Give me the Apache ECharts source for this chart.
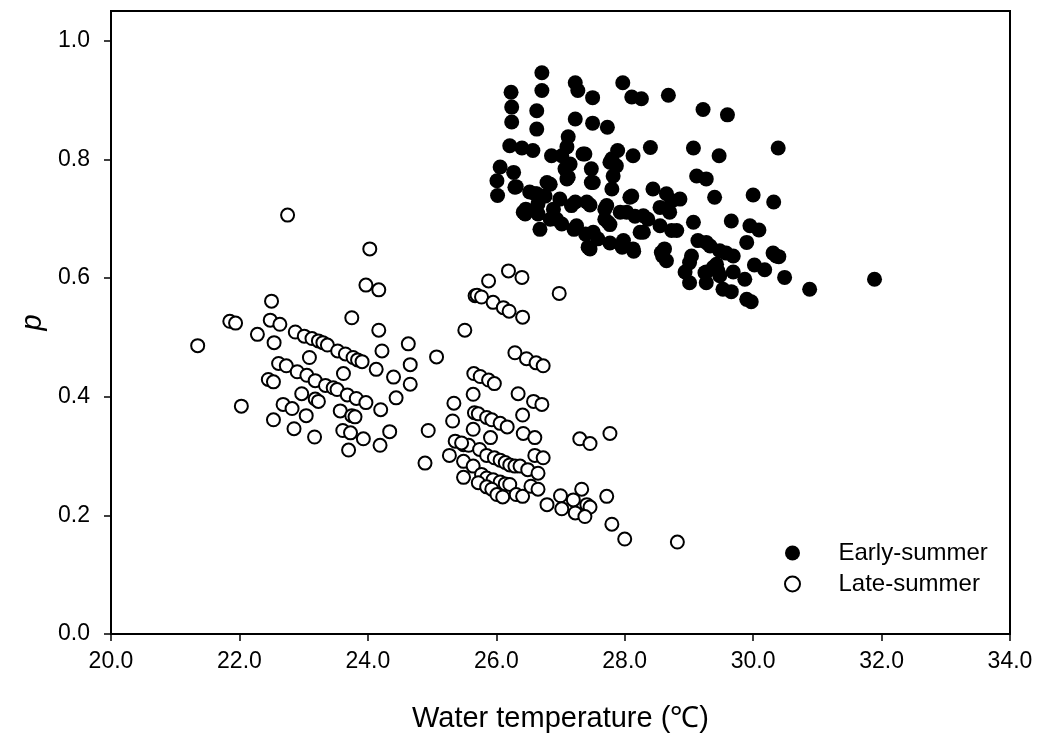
<!DOCTYPE html>
<html>
<head>
<meta charset="utf-8">
<script src="https://cdn.jsdelivr.net/npm/echarts@6/dist/echarts.min.js"></script>
<style>
html,body{margin:0;padding:0;background:#fff;}
#chart{width:1040px;height:738px;}
</style>
</head>
<body>
<div id="chart"></div>
<script>
const seriesNames = ['Early-summer', 'Late-summer'];
const xTicks = [20, 22, 24, 26, 28, 30, 32, 34];
const yTicks = [0, 0.2, 0.4, 0.6, 0.8, 1.0];

// [water temperature (°C), p]
const earlySummer = [
[26.71,0.946],[26.23,0.913],[26.71,0.916],[27.23,0.929],[27.27,0.916],[27.50,0.904],[27.97,0.929],[28.11,0.905],[28.26,0.902],[28.68,0.908],[29.22,0.884],[29.60,0.875],
[26.24,0.888],[26.63,0.882],[26.24,0.863],[27.23,0.868],[27.50,0.861],[27.73,0.854],[26.63,0.851],[27.12,0.838],
[26.21,0.823],[26.40,0.819],[26.57,0.815],[26.86,0.806],[27.10,0.821],[27.38,0.809],[27.89,0.815],[28.13,0.806],[28.40,0.820],[29.07,0.819],[29.47,0.806],[30.39,0.819],
[26.06,0.787],[26.01,0.764],[26.02,0.739],[26.27,0.778],[26.31,0.754],[27.07,0.784],[27.48,0.784],[27.77,0.795],[27.82,0.772],[29.12,0.772],[29.27,0.767],[29.40,0.736],
[26.63,0.742],[26.84,0.758],[27.10,0.767],[27.51,0.761],[27.80,0.750],[28.11,0.738],[28.44,0.750],[28.65,0.742],[28.86,0.733],
[26.45,0.708],[26.65,0.725],[26.89,0.716],[27.17,0.722],[27.41,0.728],[27.72,0.722],[28.03,0.711],[28.29,0.705],[28.55,0.719],[28.70,0.711],
[26.68,0.682],[26.94,0.699],[27.25,0.688],[27.51,0.677],[27.74,0.694],[27.98,0.663],[28.13,0.649],[28.29,0.677],[28.55,0.688],[28.81,0.680],[29.07,0.694],[29.66,0.696],
[27.46,0.649],[28.62,0.649],[28.65,0.629],[28.94,0.610],[29.14,0.663],[29.33,0.654],[29.01,0.626],[29.58,0.642],[29.38,0.618],[29.69,0.610],
[30.00,0.740],[30.32,0.728],[29.95,0.688],[30.09,0.681],[29.90,0.660],[29.27,0.660],[29.48,0.646],[29.69,0.637],[30.31,0.642],[30.40,0.636],[30.02,0.622],[30.18,0.614],[30.49,0.601],[29.27,0.610],[29.45,0.612],[29.87,0.598],[29.53,0.581],[29.66,0.577],[29.90,0.564],[29.97,0.560],[30.88,0.581],[31.89,0.598],
[28.59,0.637],[29.04,0.637],[29.01,0.592],[29.25,0.609],[29.27,0.592],[29.43,0.623],[29.48,0.604],[30.36,0.637],
[26.42,0.711],[26.79,0.761],[27.02,0.806],[27.15,0.792],[27.12,0.770],[27.35,0.809],[27.48,0.761],[27.80,0.801],[27.87,0.789],[28.08,0.736],[28.73,0.730],[27.43,0.652],[27.69,0.699],[27.77,0.690],[28.24,0.677],[28.73,0.680],[28.57,0.643],[26.29,0.753],[26.60,0.742],
[26.46,0.716],[26.65,0.708],[26.84,0.699],[27.02,0.691],[27.21,0.682],[27.39,0.674],[27.58,0.666],[27.77,0.659],[27.96,0.652],[28.14,0.645],
[26.52,0.745],[26.76,0.738],[26.99,0.733],[27.23,0.728],[27.46,0.723],[27.69,0.716],[27.93,0.711],[28.16,0.704],[28.36,0.699]
];

const lateSummer = [
[22.75,0.706],[24.03,0.649],[23.97,0.588],[24.17,0.580],[22.50,0.561],[21.85,0.527],[21.94,0.524],[22.48,0.529],[22.63,0.522],[22.28,0.505],[22.54,0.491],[22.87,0.509],
[23.01,0.502],[23.13,0.498],[23.23,0.494],[23.30,0.491],[23.37,0.487],[23.75,0.533],[24.17,0.512],[25.51,0.512],[25.67,0.570],
[23.53,0.477],[23.65,0.472],[23.77,0.466],[23.84,0.462],[23.91,0.459],[24.22,0.477],[24.63,0.489],[25.07,0.467],[24.66,0.454],[23.09,0.466],
[22.61,0.456],[22.73,0.452],[22.45,0.429],[22.53,0.425],[22.90,0.442],[23.05,0.436],[23.18,0.427],[23.34,0.419],[23.46,0.415],[23.52,0.412],[23.62,0.439],[24.13,0.446],[24.40,0.433],[24.66,0.421],
[23.68,0.403],[23.82,0.397],[23.97,0.390],[22.97,0.405],[23.18,0.396],[23.23,0.392],[24.44,0.398],[24.20,0.378],[22.68,0.387],[22.82,0.380],[22.03,0.384],[23.57,0.376],[23.75,0.368],[23.80,0.366],[23.04,0.368],[22.53,0.361],[22.85,0.346],[23.17,0.332],[23.61,0.343],[23.73,0.339],[23.93,0.329],[24.19,0.318],[24.34,0.341],[23.70,0.310],[24.94,0.343],
[25.34,0.389],[25.32,0.359],[25.65,0.439],[25.64,0.404],[25.66,0.373],[25.64,0.345],[25.36,0.325],[25.49,0.319],[25.57,0.318],[21.35,0.486],
[26.19,0.612],[26.40,0.601],[25.88,0.595],[26.98,0.574],[25.70,0.571],[25.77,0.568],[25.95,0.559],[26.11,0.550],[26.20,0.544],[26.41,0.534],
[26.29,0.474],[26.47,0.464],[26.62,0.457],[26.73,0.452],[25.75,0.434],[25.88,0.428],[25.97,0.422],[26.34,0.405],[26.58,0.392],[26.71,0.387],[26.41,0.369],
[25.72,0.371],[25.85,0.365],[25.93,0.361],[26.06,0.355],[26.17,0.349],[26.42,0.338],[26.60,0.331],[25.91,0.331],[25.46,0.322],[27.30,0.329],[27.46,0.321],[27.77,0.338],[25.74,0.311],[25.27,0.301],[24.89,0.288],[26.60,0.301],[26.73,0.297],[25.49,0.291],[25.64,0.283],
[25.85,0.301],[25.97,0.297],[26.06,0.293],[26.14,0.289],[26.21,0.285],[26.29,0.283],[26.37,0.283],[26.49,0.277],[26.65,0.271],[25.77,0.269],[25.85,0.263],[25.49,0.264],[25.95,0.260],[26.06,0.256],[26.14,0.253],[26.21,0.252],[25.72,0.255],[25.85,0.248],[25.93,0.244],[26.01,0.235],[26.10,0.231],[26.31,0.235],[26.41,0.232],[26.54,0.249],[26.65,0.244],[26.79,0.218],
[27.00,0.233],[27.02,0.211],[27.20,0.226],[27.23,0.204],[27.33,0.244],[27.41,0.218],[27.46,0.214],[27.38,0.198],[27.72,0.232],[27.80,0.185],[28.00,0.160],[28.82,0.155]
];

const FONT = '"Liberation Sans", Arial, sans-serif';
const chart = echarts.init(document.getElementById('chart'), null, {renderer: 'canvas'});
chart.setOption({
  animation: false,
  backgroundColor: '#fff',
  grid: {left: 111, right: 30, top: 11, bottom: 104, show: true, borderColor: '#000', borderWidth: 2, backgroundColor: 'transparent'},
  legend: {
    data: [
      {name: seriesNames[0], icon: 'circle', itemStyle: {color: '#000', borderColor: '#000', borderWidth: 0}},
      {name: seriesNames[1], icon: 'circle', itemStyle: {color: '#fff', borderColor: '#000', borderWidth: 2}}
    ],
    orient: 'vertical', left: 779, top: 536,
    itemWidth: 82, itemHeight: 15, itemGap: 7,
    textStyle: {fontFamily: FONT, fontSize: 24, color: '#000'}
  },
  xAxis: {
    type: 'value', min: xTicks[0], max: xTicks[xTicks.length - 1], interval: 2,
    name: 'Water temperature (℃)', nameLocation: 'middle', nameGap: 70,
    nameTextStyle: {fontFamily: FONT, fontSize: 29, color: '#000'},
    axisLine: {show: true, lineStyle: {color: '#000', width: 2}},
    axisTick: {show: true, inside: false, length: 7, lineStyle: {color: '#000', width: 1.5}},
    axisLabel: {fontFamily: FONT, fontSize: 23, color: '#000', margin: 16, formatter: v => v.toFixed(1)},
    splitLine: {show: false}
  },
  yAxis: {
    type: 'value', min: 0, max: 1.05, interval: 0.2,
    name: 'p', nameLocation: 'middle', nameGap: 63, nameRotate: 90,
    nameTextStyle: {fontFamily: FONT, fontSize: 29, fontStyle: 'italic', color: '#000'},
    axisLine: {show: true, lineStyle: {color: '#000', width: 2}},
    axisTick: {show: true, inside: false, length: 7, lineStyle: {color: '#000', width: 1.5}, customValues: yTicks},
    axisLabel: {fontFamily: FONT, fontSize: 23, color: '#000', margin: 21, formatter: v => v.toFixed(1), customValues: yTicks},
    splitLine: {show: false}
  },
  series: [
    {name: seriesNames[0], type: 'scatter', data: earlySummer, symbol: 'circle', symbolSize: 15,
     itemStyle: {color: '#000', opacity: 1}},
    {name: seriesNames[1], type: 'scatter', data: lateSummer, symbol: 'circle', symbolSize: 13,
     itemStyle: {color: '#fff', borderColor: '#000', borderWidth: 2, opacity: 1}}
  ]
});
</script>
</body>
</html>
